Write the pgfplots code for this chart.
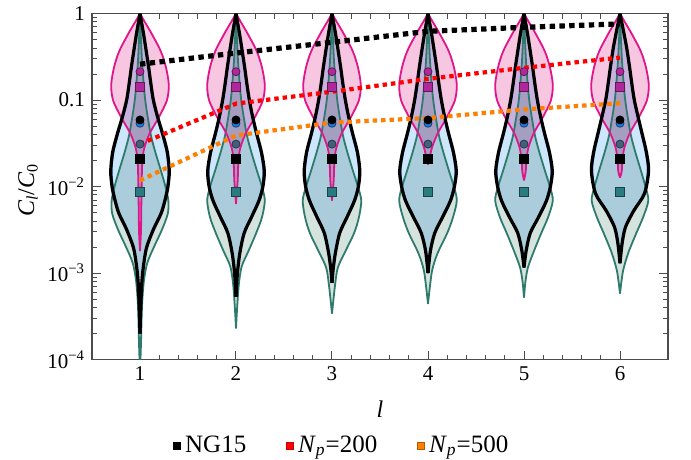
\documentclass[border=0pt]{standalone}
\usepackage{fontspec}
\setmainfont{LiberationSerif}[Extension=.ttf, UprightFont=*-Regular,
  ItalicFont=*-Italic, BoldFont=*-Bold, BoldItalicFont=*-BoldItalic]
\usepackage{pgfplots}
\usepackage{pgfplotstable}
\pgfplotsset{compat=1.18}
\usepgfplotslibrary{fillbetween}
\usetikzlibrary{calc}

\definecolor{pinkfill}{HTML}{F7C6E1}
\definecolor{pinkedge}{HTML}{E0158C}
\definecolor{bluefill}{HTML}{CDE6FA}
\definecolor{blueedge}{HTML}{1C84E6}
\definecolor{grnfill}{HTML}{D5E3DF}
\definecolor{grnedge}{HTML}{2E7A6C}
\definecolor{mkmag}{HTML}{B0289C}
\definecolor{mkslate}{HTML}{40627E}
\definecolor{mkteal}{HTML}{2A7A80}
\definecolor{mkblue}{HTML}{1A7EE0}
\definecolor{dotorange}{HTML}{FF8000}

% violin half-width profiles: y value, half width in units of l
\pgfplotstableread{
y w
1 0
0.6 0.035
0.4 0.06
0.24 0.09
0.15 0.115
0.099 0.14
0.063 0.185
0.041 0.235
0.025 0.285
0.015 0.305
0.0098 0.29
0.0069 0.26
0.0049 0.22
0.0032 0.14
0.002 0.07
0.0013 0.04
0.0008 0.02
0.0004 0.008
0.0002 0
}\blkA
\pgfplotstableread{
y w
1 0
0.6 0.035
0.4 0.06
0.24 0.09
0.15 0.115
0.099 0.14
0.063 0.175
0.041 0.215
0.025 0.265
0.0152 0.295
0.0100 0.28
0.0069 0.24
0.0044 0.16
0.0029 0.085
0.0017 0.04
0.001 0.015
0.00053 0
}\blkB
\pgfplotstableread{
y w
1 0
0.6 0.035
0.4 0.06
0.24 0.09
0.15 0.115
0.099 0.14
0.063 0.175
0.041 0.215
0.025 0.265
0.0152 0.29
0.0100 0.275
0.0069 0.235
0.0044 0.155
0.0029 0.08
0.0017 0.035
0.0011 0.012
0.00077 0
}\blkC
\pgfplotstableread{
y w
1 0
0.6 0.035
0.4 0.06
0.24 0.09
0.15 0.115
0.099 0.14
0.063 0.175
0.041 0.215
0.025 0.265
0.0152 0.295
0.0100 0.275
0.0069 0.235
0.0044 0.15
0.0029 0.07
0.0018 0.025
0.001 0
}\blkD
\pgfplotstableread{
y w
1 0
0.6 0.035
0.4 0.06
0.24 0.09
0.15 0.115
0.099 0.14
0.063 0.175
0.041 0.215
0.025 0.265
0.0152 0.295
0.0100 0.275
0.0069 0.235
0.0044 0.15
0.0029 0.065
0.0018 0.022
0.00116 0
}\blkE
\pgfplotstableread{
y w
1 0
0.6 0.04
0.4 0.07
0.24 0.1
0.15 0.125
0.099 0.15
0.063 0.19
0.041 0.23
0.025 0.275
0.0152 0.298
0.0083 0.255
0.0053 0.145
0.0034 0.057
0.0022 0.022
0.0013 0
}\blkF

\pgfplotstableread{
y w
1 0
0.5 0.01
0.24 0.025
0.099 0.055
0.041 0.11
0.025 0.16
0.015 0.22
0.01 0.265
0.0069 0.295
0.0049 0.29
0.0032 0.23
0.002 0.145
0.0013 0.075
0.0008 0.04
0.0004 0.02
0.00015 0.01
0.00007 0
}\grnA
\pgfplotstableread{
y w
1 0
0.5 0.01
0.24 0.025
0.099 0.055
0.041 0.11
0.025 0.16
0.015 0.22
0.01 0.27
0.0069 0.30
0.0044 0.27
0.0029 0.21
0.0018 0.13
0.0012 0.06
0.00075 0.03
0.0004 0.012
0.00023 0
}\grnB
\pgfplotstableread{
y w
1 0
0.5 0.01
0.24 0.025
0.099 0.055
0.041 0.11
0.025 0.16
0.015 0.22
0.01 0.27
0.0069 0.305
0.0044 0.28
0.0029 0.23
0.0017 0.13
0.00115 0.06
0.0007 0.03
0.00034 0
}\grnC
\pgfplotstableread{
y w
1 0
0.5 0.01
0.24 0.025
0.099 0.055
0.041 0.11
0.025 0.16
0.015 0.22
0.01 0.27
0.0069 0.30
0.0044 0.26
0.0029 0.20
0.0017 0.10
0.0011 0.045
0.0007 0.02
0.00044 0
}\grnD
\pgfplotstableread{
y w
1 0
0.5 0.01
0.24 0.025
0.099 0.055
0.041 0.11
0.025 0.16
0.015 0.22
0.01 0.27
0.0069 0.30
0.0044 0.25
0.0029 0.18
0.0017 0.095
0.00115 0.04
0.0008 0.015
0.00052 0
}\grnE
\pgfplotstableread{
y w
1 0
0.5 0.01
0.24 0.025
0.099 0.055
0.041 0.11
0.025 0.16
0.015 0.22
0.01 0.265
0.0069 0.295
0.0044 0.24
0.0029 0.17
0.0017 0.085
0.0011 0.035
0.0008 0.015
0.00058 0
}\grnF

\pgfplotstableread{
y w
1 0
0.8 0.05
0.59 0.12
0.37 0.215
0.24 0.27
0.15 0.30
0.099 0.28
0.063 0.195
0.041 0.10
0.028 0.045
0.02 0.025
0.012 0.018
0.006 0.014
0.003 0.01
0.0018 0
}\pnkA
\pgfplotstableread{
y w
1 0
0.8 0.05
0.59 0.12
0.37 0.215
0.24 0.27
0.15 0.30
0.099 0.28
0.063 0.195
0.041 0.10
0.028 0.045
0.02 0.025
0.012 0.018
0.0063 0
}\pnkB
\pgfplotstableread{
y w
1 0
0.8 0.05
0.59 0.12
0.37 0.215
0.24 0.27
0.15 0.30
0.099 0.28
0.063 0.195
0.041 0.10
0.028 0.045
0.02 0.025
0.012 0.018
0.0069 0
}\pnkC
\pgfplotstableread{
y w
1 0
0.8 0.05
0.59 0.12
0.37 0.215
0.24 0.27
0.15 0.30
0.099 0.28
0.063 0.195
0.041 0.10
0.028 0.04
0.022 0.02
0.018 0
}\pnkD
\pgfplotstableread{
y w
1 0
0.8 0.05
0.59 0.12
0.37 0.215
0.24 0.27
0.15 0.30
0.099 0.28
0.063 0.195
0.041 0.10
0.028 0.045
0.02 0.025
0.015 0.018
0.0118 0
}\pnkE
\pgfplotstableread{
y w
1 0
0.8 0.05
0.59 0.12
0.37 0.215
0.24 0.27
0.15 0.30
0.099 0.28
0.063 0.195
0.041 0.10
0.028 0.045
0.02 0.025
0.015 0.018
0.0127 0
}\pnkF

% #1 id, #2 l, #3 table, #4 width scale, #5 edge style, #6 fill colour
\newcommand{\violin}[6]{%
  \addplot[draw=none, smooth, forget plot, name path=r#1]
    table[x expr={#2+#4*\thisrow{w}}, y=y] {#3};
  \addplot[draw=none, smooth, forget plot, name path=l#1]
    table[x expr={#2-#4*\thisrow{w}}, y=y] {#3};
  \addplot[fill=#6, draw=none, blend mode=multiply, forget plot]
    fill between[of=r#1 and l#1];
  \addplot[#5, smooth, forget plot] table[x expr={#2+#4*\thisrow{w}}, y=y] {#3};
  \addplot[#5, smooth, forget plot] table[x expr={#2-#4*\thisrow{w}}, y=y] {#3};
}

\begin{document}
\begin{tikzpicture}
\begin{axis}[
  name=ax,
  scale only axis, width=288pt, height=173pt,
  ymode=log, ymin=1e-4, ymax=1,
  xmin=0.5, xmax=6.5,
  xtick={1,2,3,4,5,6}, minor x tick num=4,
  ytick={1e-4,1e-3,1e-2,0.1,1},
  yticklabels={10\textsuperscript{−4},10\textsuperscript{−3},10\textsuperscript{−2},0.1,1},
  minor ytick={2e-4,3e-4,4e-4,5e-4,6e-4,7e-4,8e-4,9e-4,
               2e-3,3e-3,4e-3,5e-3,6e-3,7e-3,8e-3,9e-3,
               2e-2,3e-2,4e-2,5e-2,6e-2,7e-2,8e-2,9e-2,
               0.2,0.3,0.4,0.5,0.6,0.7,0.8,0.9},
  tick align=inside,
  major tick length=4.5pt, minor tick length=2.5pt,
  axis line style={black!70, line width=0.6pt},
  every tick/.style={black!70, line width=0.5pt},
  tick label style={font=\fontsize{10.5}{12}\selectfont},
  /pgf/number format/assume math mode=true,
  xlabel={\textit{l}},
  ylabel={\textit{C}\textsubscript{\textit{l}}/\textit{C}\textsubscript{0}},
  every axis x label/.style={at={(axis description cs:0.5,-0.142)}, anchor=center,
    font=\fontsize{12}{14}\selectfont},
  every axis y label/.style={at={(axis description cs:-0.111,0.49)}, anchor=center,
    rotate=90, font=\fontsize{12}{14}\selectfont},
  legend style={at={(axis description cs:0.1406,-0.248)}, anchor=west, draw=none, fill=none,
    inner sep=0pt, legend columns=3, font=\fontsize{12.5}{14}\selectfont,
    /tikz/every even column/.append style={column sep=18pt}},
  legend image code/.code={\draw[#1, line width=0.4pt] (0pt,-1.75pt) rectangle (3.5pt,1.75pt);},
]

% green, pink, blue, black violins at each l
\violin{g1}{1}{\grnA}{1}{grnedge, line width=0.9pt}{grnfill}
\violin{p1}{1}{\pnkA}{1}{pinkedge, line width=0.9pt}{pinkfill}
\violin{b1}{1}{\blkA}{0.97}{blueedge, line width=0.9pt}{bluefill}
\addplot[black, line width=1.6pt, smooth, forget plot] table[x expr={1+\thisrow{w}}, y=y] {\blkA};
\addplot[black, line width=1.6pt, smooth, forget plot] table[x expr={1-\thisrow{w}}, y=y] {\blkA};

\violin{g2}{2}{\grnB}{1}{grnedge, line width=0.9pt}{grnfill}
\violin{p2}{2}{\pnkB}{1}{pinkedge, line width=0.9pt}{pinkfill}
\violin{b2}{2}{\blkB}{0.97}{blueedge, line width=0.9pt}{bluefill}
\addplot[black, line width=1.6pt, smooth, forget plot] table[x expr={2+\thisrow{w}}, y=y] {\blkB};
\addplot[black, line width=1.6pt, smooth, forget plot] table[x expr={2-\thisrow{w}}, y=y] {\blkB};

\violin{g3}{3}{\grnC}{1}{grnedge, line width=0.9pt}{grnfill}
\violin{p3}{3}{\pnkC}{1}{pinkedge, line width=0.9pt}{pinkfill}
\violin{b3}{3}{\blkC}{0.97}{blueedge, line width=0.9pt}{bluefill}
\addplot[black, line width=1.6pt, smooth, forget plot] table[x expr={3+\thisrow{w}}, y=y] {\blkC};
\addplot[black, line width=1.6pt, smooth, forget plot] table[x expr={3-\thisrow{w}}, y=y] {\blkC};

\violin{g4}{4}{\grnD}{1}{grnedge, line width=0.9pt}{grnfill}
\violin{p4}{4}{\pnkD}{1}{pinkedge, line width=0.9pt}{pinkfill}
\violin{b4}{4}{\blkD}{0.97}{blueedge, line width=0.9pt}{bluefill}
\addplot[black, line width=1.6pt, smooth, forget plot] table[x expr={4+\thisrow{w}}, y=y] {\blkD};
\addplot[black, line width=1.6pt, smooth, forget plot] table[x expr={4-\thisrow{w}}, y=y] {\blkD};

\violin{g5}{5}{\grnE}{1}{grnedge, line width=0.9pt}{grnfill}
\violin{p5}{5}{\pnkE}{1}{pinkedge, line width=0.9pt}{pinkfill}
\violin{b5}{5}{\blkE}{0.97}{blueedge, line width=0.9pt}{bluefill}
\addplot[black, line width=1.6pt, smooth, forget plot] table[x expr={5+\thisrow{w}}, y=y] {\blkE};
\addplot[black, line width=1.6pt, smooth, forget plot] table[x expr={5-\thisrow{w}}, y=y] {\blkE};

\violin{g6}{6}{\grnF}{1}{grnedge, line width=0.9pt}{grnfill}
\violin{p6}{6}{\pnkF}{1}{pinkedge, line width=0.9pt}{pinkfill}
\violin{b6}{6}{\blkF}{0.97}{blueedge, line width=0.9pt}{bluefill}
\addplot[black, line width=1.6pt, smooth, forget plot] table[x expr={6+\thisrow{w}}, y=y] {\blkF};
\addplot[black, line width=1.6pt, smooth, forget plot] table[x expr={6-\thisrow{w}}, y=y] {\blkF};

% summary markers
\addplot[only marks, forget plot, mark=*, mark size=2pt,
  mark options={fill=mkmag, draw=mkmag!55!black, line width=0.4pt}]
  coordinates {(1,0.213)(2,0.213)(3,0.213)(4,0.213)(5,0.213)(6,0.213)};
\addplot[only marks, forget plot, mark=square*, mark size=2.2pt,
  mark options={fill=mkmag, draw=mkmag!55!black, line width=0.4pt}]
  coordinates {(1,0.143)(2,0.143)(3,0.143)(4,0.143)(5,0.143)(6,0.143)};
\addplot[only marks, forget plot, mark=*, mark size=2pt,
  mark options={fill=mkblue, draw=mkblue!50!black, line width=0.4pt}]
  coordinates {(1,0.054)(2,0.054)(3,0.054)(4,0.054)(5,0.054)(6,0.054)};
\addplot[only marks, forget plot, mark=*, mark size=2pt,
  mark options={fill=black, draw=black, line width=0.4pt}]
  coordinates {(1,0.059)(2,0.059)(3,0.059)(4,0.059)(5,0.059)(6,0.059)};
\addplot[only marks, forget plot, mark=*, mark size=2pt,
  mark options={fill=mkslate, draw=mkslate!55!black, line width=0.4pt}]
  coordinates {(1,0.031)(2,0.031)(3,0.031)(4,0.031)(5,0.031)(6,0.031)};
\addplot[only marks, forget plot, mark=square*, mark size=2.3pt,
  mark options={fill=black, draw=black, line width=0.4pt}]
  coordinates {(1,0.021)(2,0.021)(3,0.021)(4,0.021)(5,0.021)(6,0.021)};
\addplot[only marks, forget plot, mark=square*, mark size=2.2pt,
  mark options={fill=mkteal, draw=mkteal!55!black, line width=0.4pt}]
  coordinates {(1,0.0087)(2,0.0087)(3,0.0087)(4,0.0087)(5,0.0087)(6,0.0087)};

% dotted trend lines
\addplot[black, line width=2.6pt, dash pattern=on 2.7pt off 2.2pt, forget plot]
  coordinates {(1,0.26)(2,0.35)(3,0.466)(4,0.624)(5,0.694)(6,0.76)};
\addplot[red, line width=2.1pt, dash pattern=on 2.2pt off 2pt, forget plot]
  coordinates {(1,0.031)(2,0.091)(3,0.125)(4,0.176)(5,0.236)(6,0.31)};
\addplot[dotorange, line width=2.1pt, dash pattern=on 2.2pt off 2pt, forget plot]
  coordinates {(1,0.0118)(2,0.039)(3,0.055)(4,0.062)(5,0.078)(6,0.092)};

\addlegendimage{draw=black, fill=black}
\addlegendentry{NG15}
\addlegendimage{draw=red!80!black, fill=red}
\addlegendentry{\textit{N}\textsubscript{\textit{p}}=200}
\addlegendimage{draw=dotorange!70!black, fill=dotorange}
\addlegendentry{\textit{N}\textsubscript{\textit{p}}=500}
\end{axis}
\path ($(ax.south west)+(-46pt,-49pt)$) rectangle ($(ax.north east)+(11.5pt,6.5pt)$);
\end{tikzpicture}
\end{document}
